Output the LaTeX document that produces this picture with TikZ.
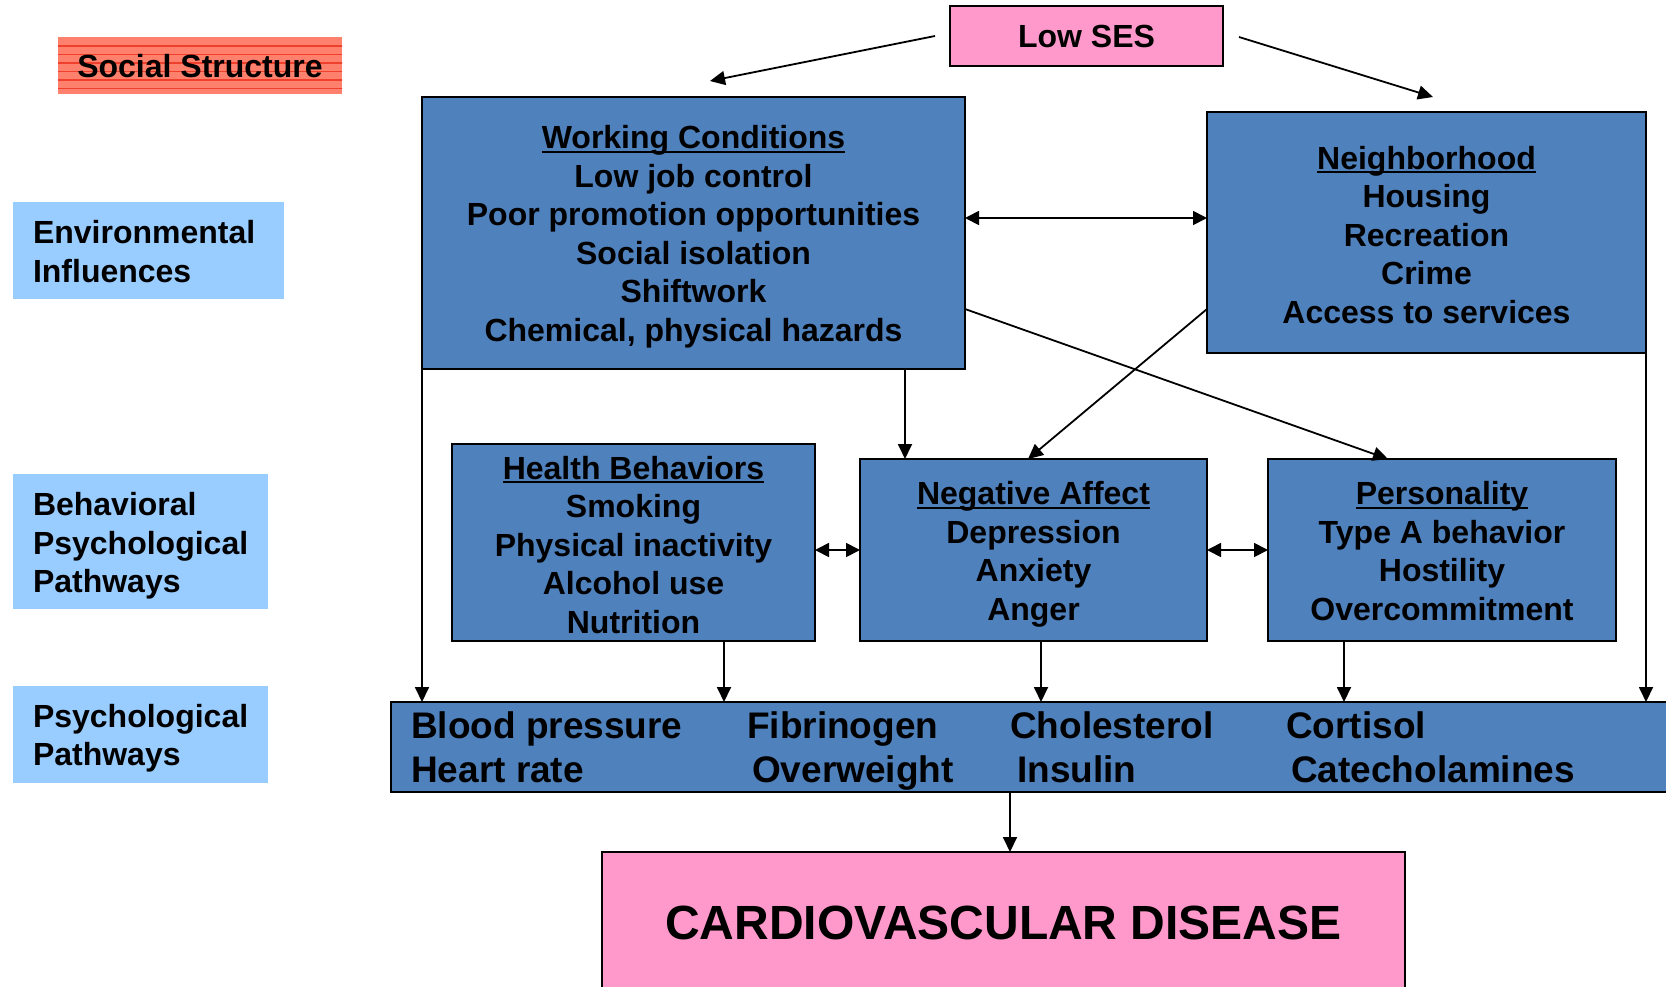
\documentclass[tikz,border=0pt]{standalone}
\usepackage{fontspec}
\setmainfont{Liberation Sans}
\usetikzlibrary{arrows.meta,calc}
\definecolor{boxblue}{RGB}{79,129,189}
\definecolor{lblue}{RGB}{153,204,255}
\definecolor{pinkfill}{RGB}{255,153,204}
\definecolor{salmon}{RGB}{255,128,108}
\definecolor{salmonline}{RGB}{238,64,44}
\newsavebox\ulbox
\newcommand\myul[1]{\sbox\ulbox{#1}\rlap{\rule[-4pt]{\wd\ulbox}{2.2pt}}\usebox\ulbox}
\newcommand\tstrut[1]{\rule{0pt}{#1}}
\begin{document}
\begin{tikzpicture}[x=1pt,y=-1pt,
  bx/.style={draw=black, line width=2.2pt, fill=boxblue, outer sep=0pt, inner sep=0pt,
    align=center, font=\fontsize{32}{38.5}\selectfont\bfseries},
  lbl/.style={fill=lblue, outer sep=0pt, inner ysep=0pt, inner xsep=20pt, align=left,
    font=\fontsize{32}{38.5}\selectfont\bfseries},
  pinkbox/.style={draw=black, fill=pinkfill, outer sep=0pt, inner sep=0pt},
  ssbox/.style={fill=salmon, outer sep=0pt, inner sep=0pt,
    font=\fontsize{32}{38.5}\selectfont\bfseries,
    path picture={\foreach \k in {0,...,5}{\draw[salmonline, line width=1.1pt]
      ([yshift={-9pt-\k*8.5pt}]path picture bounding box.north west) -- ++(320,0);}}},
  bartext/.style={anchor=base west, inner sep=0pt, font=\fontsize{37}{40}\selectfont\bfseries},
  arr/.style={line width=1.8pt, -{Triangle[length=15pt,width=14pt]}},
  darr/.style={line width=1.8pt, {Triangle[length=14pt,width=14pt]}-{Triangle[length=14pt,width=14pt]}}
]
\useasboundingbox (0,0) rectangle (1666,986);

% helper coordinates
\coordinate (y218) at (0,218);
\coordinate (x905) at (905,0);
\coordinate (x724) at (724,0);
\coordinate (x1041) at (1041,0);
\coordinate (x1344) at (1344,0);
\coordinate (x1010) at (1010,0);

% left labels
\node[ssbox, minimum width=284pt, minimum height=57pt] (ss) at (200,65.5) {\tstrut{24pt}Social Structure};
\node[lbl, text width=231pt, minimum height=97pt] (env) at (148.5,250.5) {\tstrut{25.5pt}Environmental\\Influences};
\node[lbl, text width=215pt, minimum height=135pt] (beh) at (140.5,541.5) {\tstrut{32pt}Behavioral\\Psychological\\Pathways};
\node[lbl, text width=215pt, minimum height=97pt] (psy) at (140.5,734.5) {\tstrut{31pt}Psychological\\Pathways};

% top
\node[pinkbox, line width=1.5pt, minimum width=273pt, minimum height=60pt,
  font=\fontsize{32}{38.5}\selectfont\bfseries] (ses) at (1086.5,36) {Low SES};

% blue boxes
\node[bx, minimum width=543pt, minimum height=272pt] (wc) at (693.5,233)
  {\tstrut{31pt}\myul{Working Conditions}\\Low job control\\Poor promotion opportunities\\Social isolation\\Shiftwork\\Chemical, physical hazards};
\node[bx, minimum width=439pt, minimum height=241pt] (nb) at (1426.5,232.5)
  {\tstrut{27.5pt}\myul{Neighborhood}\\Housing\\Recreation\\Crime\\Access to services};
\node[bx, minimum width=363pt, minimum height=197pt] (hb) at (633.5,542.5)
  {\tstrut{27.5pt}\myul{Health Behaviors}\\Smoking\\Physical inactivity\\Alcohol use\\Nutrition};
\node[bx, minimum width=347pt, minimum height=182pt] (na) at (1033.5,550)
  {\tstrut{32pt}\myul{Negative Affect}\\Depression\\Anxiety\\Anger};
\node[bx, minimum width=348pt, minimum height=182pt] (pe) at (1442,550)
  {\tstrut{25.5pt}\myul{Personality}\\Type A behavior\\Hostility\\Overcommitment};

% biomarker bar
\node[bx, minimum width=1300pt, minimum height=90pt] (bar) at (1041,747) {};
\node[bartext] (bp) at (411,738) {Blood pressure};
\node[bartext] (hr) at (411,782) {Heart rate};
\node[bartext] (fib) at (747,738) {Fibrinogen};
\node[bartext] (ow) at (752,782) {Overweight};
\node[bartext] (cho) at (1010,738) {Cholesterol};
\node[bartext] (ins) at (1017,782) {Insulin};
\node[bartext] (cor) at (1286,738) {Cortisol};
\node[bartext] (cat) at (1291,782) {Catecholamines};

% CVD
\node[pinkbox, line width=2.2pt, minimum width=803pt, minimum height=150pt,
  font=\fontsize{48}{50}\selectfont\bfseries] (cvd) at (1003.5,927)
  {\rule[-8.5pt]{0pt}{8.5pt}CARDIOVASCULAR DISEASE};

% connectors
\coordinate (sesL) at ($(ses.west)+(-15,0)$);
\coordinate (wcT) at (710,81);
\coordinate (sesR) at ($(ses.east)+(16,1)$);
\coordinate (nbT) at (1433,97);
\draw[arr] (sesL) -- (wcT);
\draw[arr] (sesR) -- (nbT);
\draw[darr] (wc.east |- y218) -- (nb.west |- y218);
\draw[arr] (wc.south -| x905) -- (na.north -| x905);
\coordinate (nbL) at (nb.west |- 0,309);
\coordinate (naT) at (1028,459);
\draw[arr] (nbL) -- (naT);
\coordinate (wcR) at (wc.east |- 0,309);
\coordinate (peT) at (1388,459);
\draw[arr] (wcR) -- (peT);
\draw[arr] (wc.south west) -- (wc.south west |- bar.north);
\draw[arr] (nb.south east) -- (nb.south east |- bar.north);
\draw[darr] (na.west -| hb.east) -- (na.west);
\draw[darr] (na.east) -- (pe.west);
\draw[arr] (hb.south -| x724) -- (bar.north -| x724);
\draw[arr] (na.south -| x1041) -- (bar.north -| x1041);
\draw[arr] (pe.south -| x1344) -- (bar.north -| x1344);
\draw[arr] (bar.south -| x1010) -- (cvd.north -| x1010);
\end{tikzpicture}
\end{document}
